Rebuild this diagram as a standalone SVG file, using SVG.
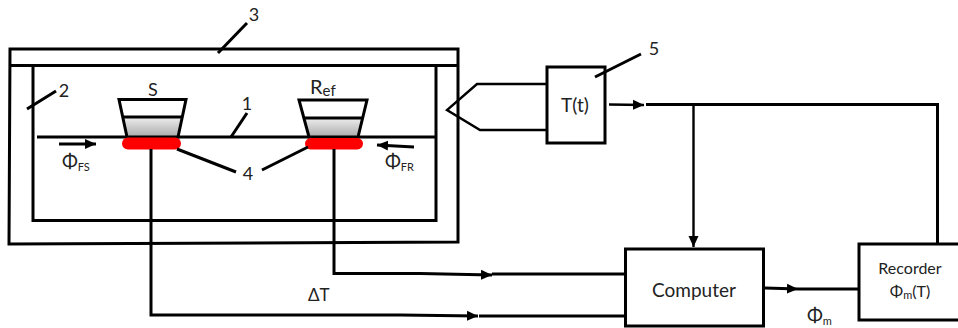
<svg xmlns="http://www.w3.org/2000/svg" width="958" height="328" viewBox="0 0 958 328">
<style>
.l{fill:none;stroke:#000;stroke-width:3}
.t{stroke-width:2.400}
text{font-family:"Lato","Open Sans","Liberation Sans",sans-serif;fill:#222;font-size:17px}
.n{font-size:18px}
.p{font-size:19px}
.s{font-size:11px}
.m{text-anchor:middle}
</style>
<defs>
<marker id="a" markerUnits="userSpaceOnUse" markerWidth="12" markerHeight="12" refX="11" refY="6" orient="auto"><path d="M0 1L11 6L0 11Z" fill="#000"/></marker>
<linearGradient id="g" x1="0" y1="0" x2="0" y2="1"><stop offset="0" stop-color="#eee"/><stop offset="1" stop-color="#aaa"/></linearGradient>
</defs>
<rect width="958" height="328" fill="#fff"/>
<g id="furnace">
<path class="l" d="M10 49H458V242L9 244Z"/>
<path class="l" d="M10 65.500H458"/>
<path class="l" d="M33 66V220.500H436V66"/>
<path class="l" d="M37 137H436"/>
</g>
<g id="sample">
<path d="M123.500 117H181L177 137H127Z" fill="url(#g)"/>
<path class="l" d="M119 99.500H186L178 137H127Z"/>
<path class="l" d="M123 117H182"/>
<rect x="122" y="137.500" width="59" height="12" rx="6" fill="#f00"/>
<text x="153" y="96" class="m n">S</text>
</g>
<g id="reference">
<path d="M303.500 118H362L358 137H309Z" fill="url(#g)"/>
<path class="l" d="M299 100H367L358 137H309Z"/>
<path class="l" d="M303 118H363"/>
<rect x="305" y="138" width="58" height="11.500" rx="5.700" fill="#f00"/>
<text x="310" y="94" style="font-size:20px">R<tspan style="font-size:15px" dy="1.500">ef</tspan></text>
</g>
<g id="tt">
<rect class="l" x="547" y="67" width="58" height="76" style="fill:#fff"/>
<text x="575" y="112" class="m" style="font-size:19px">T(t)</text>
</g>
<g id="computer">
<rect class="l" x="625.500" y="249" width="138" height="77"/>
<text x="694" y="297" class="m" style="font-size:19px">Computer</text>
</g>
<g id="recorder">
<path class="l" d="M960 244H859V320H960"/>
<text x="910" y="274" class="m" style="font-size:16px">Recorder</text>
<text x="910" y="297" class="m" style="font-size:16px">Φ<tspan class="s" dy="2">m</tspan><tspan dy="-2">(T)</tspan></text>
</g>
<g id="connectors">
<path class="l t" d="M547 84H477L447 110L480 130H547"/>
<path class="l t" d="M609 104.500L644 105" marker-end="url(#a)"/>
<path class="l" d="M646 104.500H937.500V244"/>
<path class="l t" d="M693.500 104.500V247" marker-end="url(#a)"/>
<path class="l" d="M151 149V315H400L478 316" marker-end="url(#a)"/>
<path class="l" d="M479 316H625"/>
<path class="l" d="M334 149V273.500H420L492 275" marker-end="url(#a)"/>
<path class="l" d="M492 274H625"/>
<path class="l" d="M765 288L798 289" marker-end="url(#a)"/>
<path class="l" d="M798 289H859"/>
<path class="l" d="M59 144H96" marker-end="url(#a)"/>
<path class="l" d="M414 147L377 145" marker-end="url(#a)"/>
<path class="l" d="M218 53L247 23"/>
<path class="l" d="M27 109L56 91"/>
<path class="l" d="M231 137L247 113"/>
<path class="l" d="M177 149L236 172"/>
<path class="l" d="M262 170L308 147"/>
<path class="l" d="M595 77L641 54"/>
</g>
<g id="labels">
<text x="254" y="21" class="m n">3</text>
<text x="64" y="97" class="m n">2</text>
<text x="247" y="110" class="m n">1</text>
<text x="248" y="180" class="m n">4</text>
<text x="654" y="55" class="m n">5</text>
<text x="62" y="168" class="p">Φ<tspan class="s" dy="3">FS</tspan></text>
<text x="385" y="168" class="p">Φ<tspan class="s" dy="3">FR</tspan></text>
<text x="308" y="301">ΔT</text>
<text x="807" y="322" class="p">Φ<tspan class="s" dy="3">m</tspan></text>
</g>
</svg>
